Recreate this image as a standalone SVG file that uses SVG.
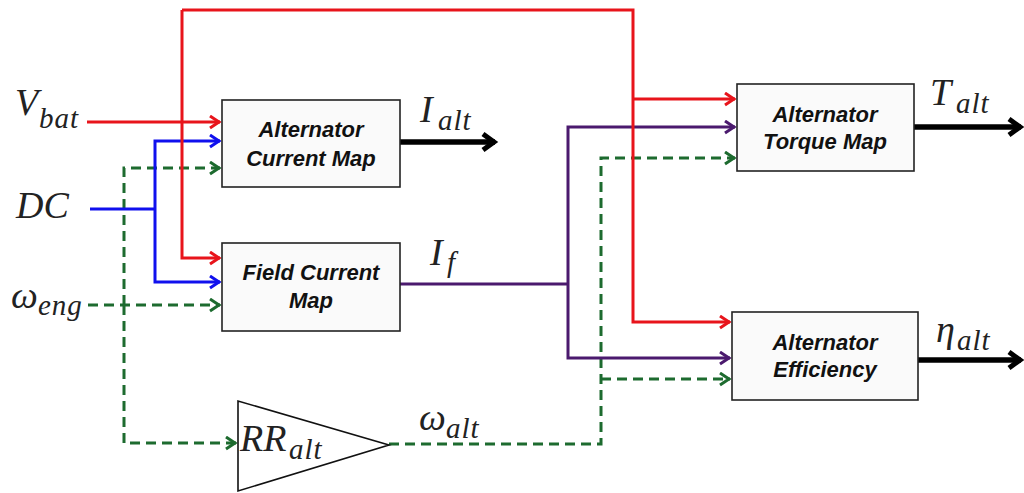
<svg xmlns="http://www.w3.org/2000/svg" width="1024" height="493" viewBox="0 0 1024 493">
<style>
.box{fill:#fafafa;stroke:#222;stroke-width:1.6}
.bt{font-family:"Liberation Sans",Arial,sans-serif;font-weight:bold;font-style:italic;font-size:22px;fill:#111;text-anchor:middle}
.m{font-family:"Liberation Serif","Times New Roman",serif;font-style:italic;font-size:38px;fill:#222}
.s{font-size:29px;letter-spacing:1px}
.ln{fill:none;stroke-width:3}
.r{stroke:#e8141b}
.b{stroke:#1010ee}
.g{stroke:#1d6b2f;stroke-dasharray:10 6}
.p{stroke:#4b1a6e}
.k{stroke:#000;stroke-width:5.5;fill:none}
</style>
<defs>
<marker id="ar" markerUnits="userSpaceOnUse" markerWidth="16" markerHeight="18" refX="11" refY="7" orient="auto"><path d="M1,1 L10,7 L1,13" fill="none" stroke="#e8141b" stroke-width="3"/></marker>
<marker id="ab" markerUnits="userSpaceOnUse" markerWidth="16" markerHeight="18" refX="11" refY="7" orient="auto"><path d="M1,1 L10,7 L1,13" fill="none" stroke="#1010ee" stroke-width="3"/></marker>
<marker id="ag" markerUnits="userSpaceOnUse" markerWidth="16" markerHeight="18" refX="11" refY="7" orient="auto"><path d="M1,1 L10,7 L1,13" fill="none" stroke="#1d6b2f" stroke-width="3"/></marker>
<marker id="ap" markerUnits="userSpaceOnUse" markerWidth="16" markerHeight="18" refX="11" refY="7" orient="auto"><path d="M1,1 L10,7 L1,13" fill="none" stroke="#4b1a6e" stroke-width="3"/></marker>
<marker id="ak" markerUnits="userSpaceOnUse" markerWidth="20" markerHeight="24" refX="14" refY="10" orient="auto"><path d="M2,2 L13,10 L2,18" fill="none" stroke="#000" stroke-width="5"/></marker>
</defs>

<g id="connectors">
<path class="ln g" d="M88,305 H220" marker-end="url(#ag)"/>
<path class="ln g" d="M124,305 V168 H220" marker-end="url(#ag)"/>
<path class="ln g" d="M124,305 V443 H236" marker-end="url(#ag)"/>
<path class="ln g" d="M389,444 H601 V158 H735" marker-end="url(#ag)"/>
<path class="ln g" d="M601,379 H730" marker-end="url(#ag)"/>
<path class="ln b" d="M90,209 H155"/>
<path class="ln b" d="M155,209 V141 H220" marker-end="url(#ab)"/>
<path class="ln b" d="M155,209 V282 H220" marker-end="url(#ab)"/>
<path class="ln p" d="M400,284 H568"/>
<path class="ln p" d="M568,284 V127 H735" marker-end="url(#ap)"/>
<path class="ln p" d="M568,284 V358 H730" marker-end="url(#ap)"/>
<path class="ln r" d="M87,122 H220" marker-end="url(#ar)"/>
<path class="ln r" d="M182,10 V258 H220" marker-end="url(#ar)"/>
<path class="ln r" d="M182,10 H633 V322 H730" marker-end="url(#ar)"/>
<path class="ln r" d="M633,99 H735" marker-end="url(#ar)"/>
<path class="k" d="M400,142 H495" marker-end="url(#ak)"/>
<path class="k" d="M914,127 H1021" marker-end="url(#ak)"/>
<path class="k" d="M918,360 H1021" marker-end="url(#ak)"/>
</g>

<g id="current-map">
<rect class="box" x="222" y="100" width="178" height="87"/>
<text class="bt" x="311" y="137">Alternator</text>
<text class="bt" x="311" y="166">Current Map</text>
</g>
<g id="field-map">
<rect class="box" x="222" y="243" width="178" height="88"/>
<text class="bt" x="311" y="280">Field Current</text>
<text class="bt" x="311" y="308">Map</text>
</g>
<g id="torque-map">
<rect class="box" x="737" y="84" width="177" height="87"/>
<text class="bt" x="825" y="122">Alternator</text>
<text class="bt" x="825" y="149">Torque Map</text>
</g>
<g id="efficiency">
<rect class="box" x="732" y="312" width="186" height="88"/>
<text class="bt" x="825" y="350">Alternator</text>
<text class="bt" x="825" y="377">Efficiency</text>
</g>
<g id="gain">
<path d="M238,401 L238,491 L389,445 Z" fill="#fff" stroke="#111" stroke-width="1.6"/>
<text class="m" x="240" y="451">RR<tspan class="s" x="289" y="459">alt</tspan></text>
</g>

<g id="labels">
<text class="m" x="15" y="115">V<tspan class="s" x="39" y="128">bat</tspan></text>
<text class="m" x="16" y="218">DC</text>
<text class="m" x="11" y="308">ω<tspan class="s" x="38" y="315">eng</tspan></text>
<text class="m" x="420" y="122">I<tspan class="s" x="438" y="130">alt</tspan></text>
<text class="m" x="430" y="265">I<tspan class="s" x="447" y="272">f</tspan></text>
<text class="m" x="419" y="430">ω<tspan class="s" x="446" y="438">alt</tspan></text>
<text class="m" x="930" y="105">T<tspan class="s" x="956" y="113">alt</tspan></text>
<text class="m" x="936" y="342">η<tspan class="s" x="957" y="350">alt</tspan></text>
</g>
</svg>
